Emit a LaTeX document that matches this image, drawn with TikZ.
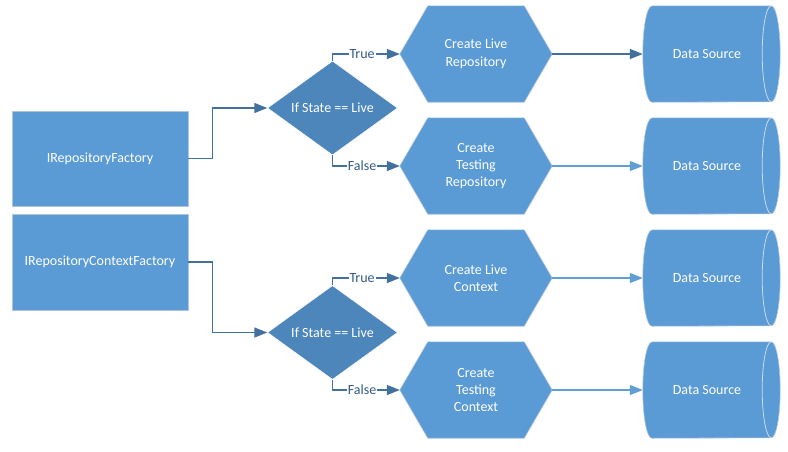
\documentclass[tikz,border=0pt]{standalone}
\usepackage{fontspec}
\setmainfont{Carlito}
\usetikzlibrary{shapes.geometric,arrows.meta,backgrounds}
\definecolor{shapeblue}{RGB}{91,155,213}
\definecolor{diamblue}{RGB}{76,134,186}
\definecolor{darkline}{RGB}{65,113,156}
\definecolor{lightline}{RGB}{96,158,214}
\definecolor{edgegray}{RGB}{176,196,218}
\definecolor{innerarc}{RGB}{200,218,236}
\definecolor{lbltext}{RGB}{50,90,135}
\begin{document}
\begin{tikzpicture}[x=1pt,y=1pt,
  every node/.style={font=\fontsize{14}{17.4}\selectfont},
  boxnode/.style={rectangle,fill=shapeblue,draw=edgegray,line width=0.8pt,
    text=white,minimum width=176pt,minimum height=95pt,inner sep=0pt},
  decnode/.style={diamond,fill=diamblue,draw=white,line width=0.5pt,text=white,
    minimum width=130pt,minimum height=94pt,inner sep=0pt},
  hexnode/.style={rectangle,text=white,align=center,minimum width=152pt,
    minimum height=96pt,inner sep=0pt},
  cylnode/.style={rectangle,text=white,minimum width=128pt,minimum height=96pt,inner sep=0pt},
  shapefill/.style={fill=shapeblue,draw=edgegray,line width=0.6pt},
  conn/.style={draw=darkline,line width=1.5pt,-{Triangle[length=13pt,width=10pt]}},
  lconn/.style={draw=lightline,line width=1.3pt,-{Triangle[length=13pt,width=10pt]}},
  lbl/.style={fill=white,text=lbltext,inner sep=1pt}]
\useasboundingbox (0,0) rectangle (788,-451);

% boxes
\node[boxnode] (b1) at (100,-158.5) {IRepositoryFactory};
\node[boxnode,minimum height=96pt] (b2) at (100,-262) {IRepositoryContextFactory};

% decisions
\node[decnode] (d1) at (332.5,-108) {If State == Live};
\node[decnode] (d2) at (332.5,-332.5) {If State == Live};

% hexagons
\node[hexnode] (h1) at (476,-54) {Create Live\\Repository};
\node[hexnode] (h2) at (476,-166) {Create\\Testing\\Repository};
\node[hexnode] (h3) at (476,-278) {Create Live\\Context};
\node[hexnode] (h4) at (476,-390) {Create\\Testing\\Context};

% data sources
\node[cylnode] (s1) at (707,-54) {Data Source};
\node[cylnode] (s2) at (707,-166) {Data Source};
\node[cylnode] (s3) at (707,-278) {Data Source};
\node[cylnode] (s4) at (707,-390) {Data Source};

\begin{scope}[on background layer]
  \foreach \h in {h1,h2,h3,h4}{
    \path[shapefill] (\h.west) -- ([xshift=28pt]\h.north west) -- ([xshift=-28pt]\h.north east)
      -- (\h.east) -- ([xshift=-28pt]\h.south east) -- ([xshift=28pt]\h.south west) -- cycle;
  }
  \foreach \s in {s1,s2,s3,s4}{
    \path[shapefill] ([xshift=9pt]\s.north west) -- (\s.north east)
      arc[start angle=90,end angle=-90,x radius=9pt,y radius=48pt]
      -- ([xshift=9pt]\s.south west)
      arc[start angle=270,end angle=90,x radius=9pt,y radius=48pt] -- cycle;
    \draw[innerarc,line width=0.8pt] (\s.north east)
      arc[start angle=90,end angle=270,x radius=9pt,y radius=48pt];
  }
\end{scope}

% connectors from factories
\draw[conn] (b1.east) -- ++(24,0) |- (d1.west);
\draw[conn] (b2.east) -- ++(24,0) |- (d2.west);

% branches
\draw[conn] (d1.north) |- node[lbl,pos=0.72] {True} (h1.west);
\draw[conn] (d1.south) |- node[lbl,pos=0.72] {False} (h2.west);
\draw[conn] (d2.north) |- node[lbl,pos=0.72] {True} (h3.west);
\draw[conn] (d2.south) |- node[lbl,pos=0.72] {False} (h4.west);

% to data sources
\draw[conn] (h1.east) -- (s1.west);
\draw[lconn] (h2.east) -- (s2.west);
\draw[lconn] (h3.east) -- (s3.west);
\draw[lconn] (h4.east) -- (s4.west);
\end{tikzpicture}
\end{document}
